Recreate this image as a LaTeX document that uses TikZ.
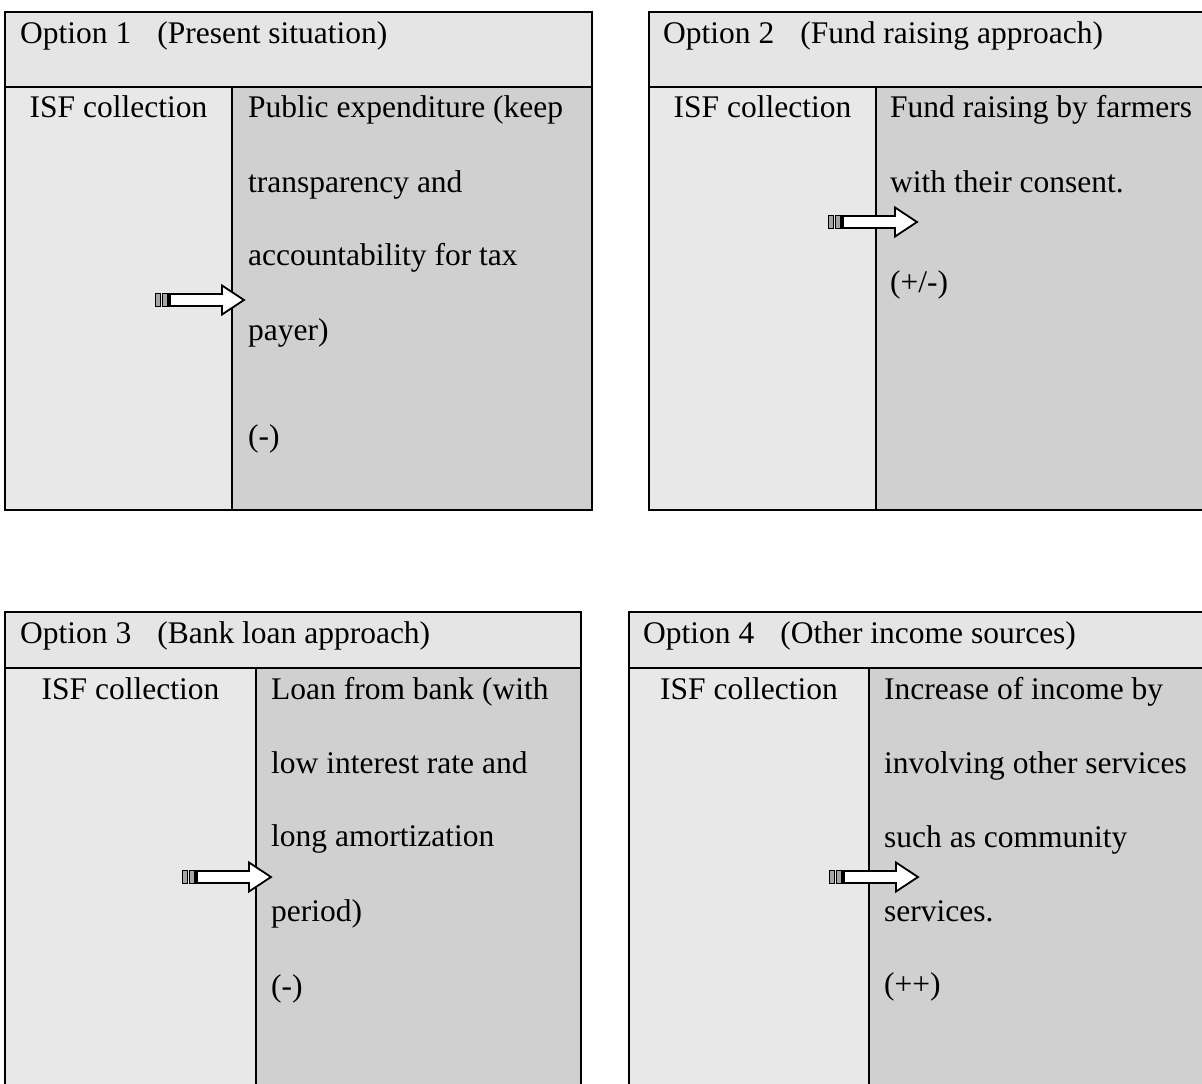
\documentclass[tikz,border=0pt]{standalone}
\usepackage{fontspec}
\setmainfont{Liberation Serif}
\definecolor{headgray}{HTML}{E5E5E5}
\definecolor{leftgray}{HTML}{E8E8E8}
\definecolor{rightgray}{HTML}{D0D0D0}
\tikzset{
  txt/.style={anchor=base west, inner sep=0pt, font=\fontsize{31.5}{38}\selectfont},
  ctxt/.style={anchor=base, inner sep=0pt, font=\fontsize{31.5}{38}\selectfont},
  boxline/.style={draw=black, line width=1.4pt},
  arrowline/.style={draw=black, line width=1.8pt, fill=white, line join=miter},
  barline/.style={draw=black, line width=1.8pt, fill=gray!70},
  isfarrow/.pic={
    \draw[arrowline] (-22,-14.5) -- (0,0) -- (-22,14.5) -- (-22,6) -- (-74,6) -- (-74,-6) -- (-22,-6) -- cycle;
    \draw[barline] (-81.5,-6.5) rectangle (-76,6.5);
    \draw[barline] (-88.5,-6.5) rectangle (-83.5,6.5);
  }
}
\begin{document}
\begin{tikzpicture}[x=1pt,y=-1pt]
\useasboundingbox (0,0) rectangle (1202,1084);
\clip (0,0) rectangle (1202,1084);
\fill[white] (0,0) rectangle (1202,1084);

% ---------- Box 1 ----------
\fill[headgray] (5,12) rectangle (592,87);
\fill[leftgray] (5,87) rectangle (232,510);
\fill[rightgray] (232,87) rectangle (592,510);
\draw[boxline] (5,12) rectangle (592,510);
\draw[boxline] (5,87) -- (592,87);
\draw[boxline] (232,87) -- (232,510);
\node[txt] (h1) at (20,43) {Option 1\hspace{26pt}(Present situation)};
\node[ctxt] (l1) at (118.5,117) {ISF collection};
\node[txt] (r1a) at (248,117) {Public expenditure (keep};
\node[txt] (r1b) at (248,192) {transparency and};
\node[txt] (r1c) at (248,265) {accountability for tax};
\node[txt] (r1d) at (248,340) {payer)};
\node[txt] (r1e) at (248,446) {(-)};
\pic at (244,300) {isfarrow};

% ---------- Box 2 ----------
\fill[headgray] (649,12) rectangle (1215,87);
\fill[leftgray] (649,87) rectangle (876,510);
\fill[rightgray] (876,87) rectangle (1215,510);
\draw[boxline] (649,12) rectangle (1215,510);
\draw[boxline] (649,87) -- (1215,87);
\draw[boxline] (876,87) -- (876,510);
\node[txt] (h2) at (663,43) {Option 2\hspace{26pt}(Fund raising approach)};
\node[ctxt] (l2) at (762.5,117) {ISF collection};
\node[txt] (r2a) at (890,117) {Fund raising by farmers};
\node[txt] (r2b) at (890,192) {with their consent.};
\node[txt] (r2c) at (890,292) {(+/-)};
\pic at (917,222) {isfarrow};

% ---------- Box 3 ----------
\fill[headgray] (5,612) rectangle (581,668);
\fill[leftgray] (5,668) rectangle (256,1100);
\fill[rightgray] (256,668) rectangle (581,1100);
\draw[boxline] (5,612) rectangle (581,1100);
\draw[boxline] (5,668) -- (581,668);
\draw[boxline] (256,668) -- (256,1100);
\node[txt] (h3) at (20,643) {Option 3\hspace{26pt}(Bank loan approach)};
\node[ctxt] (l3) at (130.5,699) {ISF collection};
\node[txt] (r3a) at (271,699) {Loan from bank (with};
\node[txt] (r3b) at (271,773) {low interest rate and};
\node[txt] (r3c) at (271,846) {long amortization};
\node[txt] (r3d) at (271,921) {period)};
\node[txt] (r3e) at (271,996) {(-)};
\pic at (271,877) {isfarrow};

% ---------- Box 4 ----------
\fill[headgray] (629,612) rectangle (1215,668);
\fill[leftgray] (629,668) rectangle (869,1100);
\fill[rightgray] (869,668) rectangle (1215,1100);
\draw[boxline] (629,612) rectangle (1215,1100);
\draw[boxline] (629,668) -- (1215,668);
\draw[boxline] (869,668) -- (869,1100);
\node[txt] (h4) at (643,643) {Option 4\hspace{26pt}(Other income sources)};
\node[ctxt] (l4) at (749,699) {ISF collection};
\node[txt] (r4a) at (884,699) {Increase of income by};
\node[txt] (r4b) at (884,773) {involving other services};
\node[txt] (r4c) at (884,847) {such as community};
\node[txt] (r4d) at (884,921) {services.};
\node[txt] (r4e) at (884,994) {(++)};
\pic at (918,877) {isfarrow};
\end{tikzpicture}
\end{document}
